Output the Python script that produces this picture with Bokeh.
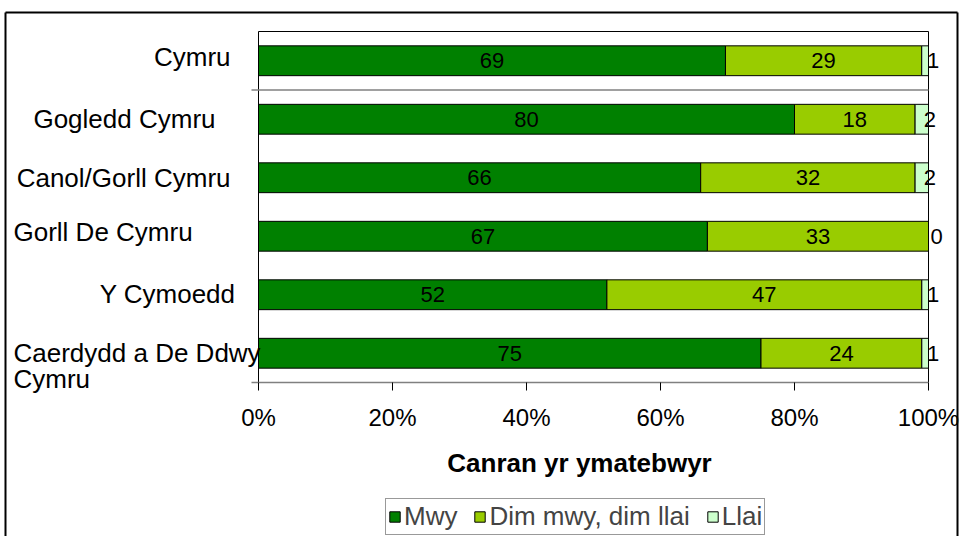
from bokeh.plotting import figure
from bokeh.models import ColumnDataSource, Range1d, Legend, LegendItem
from bokeh.core.properties import value
from bokeh.embed import file_html
from bokeh.resources import INLINE

# ---- data ----
categories = ["Cymru", "Gogledd Cymru", "Canol/Gorll Cymru", "Gorll De Cymru",
              "Y Cymoedd", "Caerdydd a De Ddwy\nCymru"]
mwy = [69, 80, 66, 67, 52, 75]
dim = [29, 18, 32, 33, 47, 24]
llai = [1, 2, 2, 0, 1, 1]
series_names = ["Mwy", "Dim mwy, dim llai", "Llai"]
x_ticks = [0, 20, 40, 60, 80, 100]
x_tick_labels = ["0%", "20%", "40%", "60%", "80%", "100%"]
x_title = "Canran yr ymatebwyr"

# ---- styles / layout (pixels) ----
FONT = "Liberation Sans"
colors = ["#008000", "#99CC00", "#CCFFCC"]
label_align = ["right", "right", "right", "left", "right", "left"]
label_dx = [-28, -43, -28, -245, -23, -245]
label_dy = [-4, 0, 0, -4, -1, 13]
W, H = 959, 536
PA_L, PA_R, PA_T, PA_B = 258, 928, 31, 382   # plot area in canvas px

n = len(categories)
xmax = 100.0
ppx = (PA_R - PA_L) / xmax
ppy = (PA_B - PA_T) / n
x0r = -PA_L / ppx
x1r = xmax + (W - PA_R) / ppx
ytop = -PA_T / ppy
ybot = n + (H - PA_B) / ppy

# 100% stacking
tot = [a + b + c for a, b, c in zip(mwy, dim, llai)]
p_mwy = [a / t * xmax for a, t in zip(mwy, tot)]
p_dim = [b / t * xmax for b, t in zip(dim, tot)]
p_llai = [c / t * xmax for c, t in zip(llai, tot)]
ypos = [i + 0.5 for i in range(n)]

src = ColumnDataSource(dict(y=ypos, mwy=p_mwy, dim=p_dim, llai=p_llai))

p = figure(width=W, height=H, output_backend="svg", toolbar_location=None,
           x_range=Range1d(x0r, x1r), y_range=Range1d(ybot, ytop),
           min_border_left=0, min_border_right=0, min_border_top=0, min_border_bottom=0,
           x_axis_location=None, y_axis_location=None)
p.outline_line_color = None
p.background_fill_color = "white"
p.border_fill_color = "white"
p.xgrid.grid_line_color = None
p.ygrid.grid_line_color = None

# outer chart border
bx0 = x0r + 5 / ppx
bx1 = x1r - 2 / ppx
by0 = ytop + 12 / ppy
p.segment(x0=[bx0, bx0, bx1], y0=[by0, by0, by0], x1=[bx1, bx0, bx1], y1=[by0, ybot, ybot],
          line_color="black", line_width=2)

rs = p.hbar_stack(["mwy", "dim", "llai"], y="y", height=0.51, color=colors,
                  line_color="black", line_width=1, source=src)

# plot-area frame lines and boundary lines
ext = 7 / ppx
p.segment(x0=[0, 0, xmax], y0=[0, 0, 0], x1=[xmax, 0, xmax], y1=[0, n, n],
          line_color="black", line_width=1)
p.segment(x0=[-ext, -ext], y0=[1, n], x1=[xmax, xmax], y1=[1, n],
          line_color="#808080", line_width=1.5)

# x axis ticks and labels
tick_len = 8 / ppy
p.segment(x0=x_ticks, y0=[n] * len(x_ticks), x1=x_ticks, y1=[n + tick_len] * len(x_ticks),
          line_color="black", line_width=1)
p.text(x=x_ticks, y=[n] * len(x_ticks), text=x_tick_labels, y_offset=35,
       text_align="center", text_baseline="middle",
       text_font=value(FONT), text_font_size=value("24px"), text_color="black")
p.text(x=[xmax / 2], y=[n], text=[x_title], x_offset=-14, y_offset=80,
       text_align="center", text_baseline="middle",
       text_font=value(FONT), text_font_size=value("26px"), text_font_style="bold",
       text_color="black")

# value labels
lab = ColumnDataSource(dict(
    y=ypos * 3,
    x=[m / 2 for m in p_mwy] + [m + d / 2 for m, d in zip(p_mwy, p_dim)]
      + [m + d + l / 2 for m, d, l in zip(p_mwy, p_dim, p_llai)],
    t=[str(v) for v in mwy] + [str(v) for v in dim] + [str(v) for v in llai],
    dx=[0] * (2 * n) + [8] * n,
))
p.text(x="x", y="y", text="t", source=lab, x_offset="dx",
       text_align="center", text_baseline="middle",
       text_font=value(FONT), text_font_size=value("22px"), text_color="black")

# category labels
cat_src = ColumnDataSource(dict(x=[0] * n, y=ypos, t=categories, al=label_align,
                                dx=label_dx, dy=label_dy))
p.text(x="x", y="y", text="t", source=cat_src, x_offset="dx", y_offset="dy",
       text_align="al", text_baseline="middle", text_line_height=0.87,
       text_font=value(FONT), text_font_size=value("26px"), text_color="black")

legend = Legend(items=[LegendItem(label=nm, renderers=[r]) for nm, r in zip(series_names, rs)],
                orientation="horizontal", location=(385, 1))
legend.label_text_font = FONT
legend.label_text_font_size = "26px"
legend.glyph_width = 13
legend.glyph_height = 13
legend.label_standoff = 3
legend.spacing = 16
legend.padding = 2
legend.margin = 0
legend.border_line_color = "#333333"
legend.border_line_width = 1
legend.background_fill_color = "white"
p.add_layout(legend)

open("out.html", "w").write(file_html(p, INLINE))
